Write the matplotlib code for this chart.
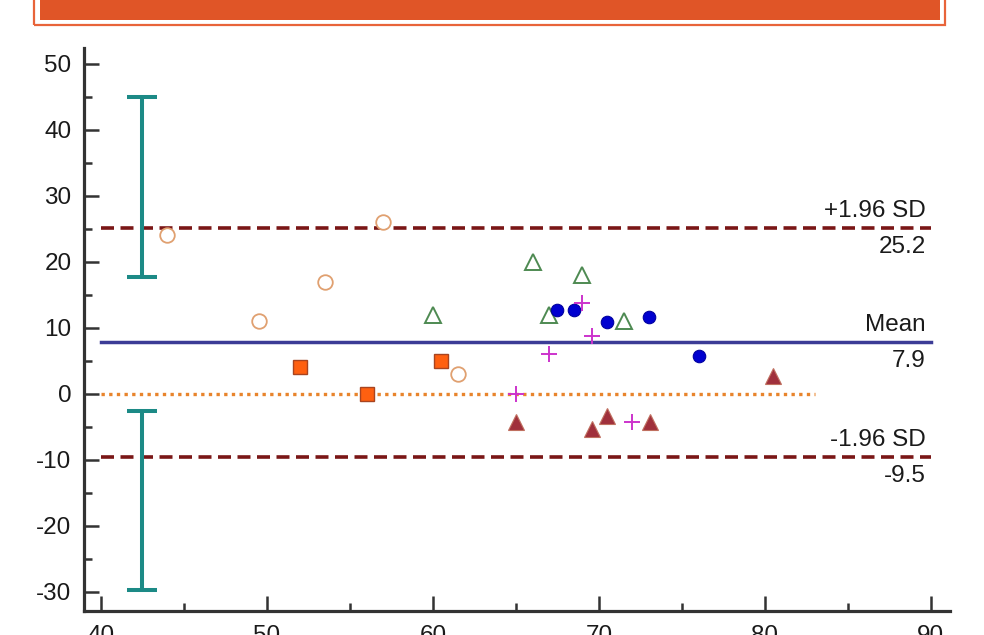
import numpy as np
import matplotlib.pyplot as plt
from matplotlib.patches import Rectangle

plt.rcParams['font.family'] = ['Liberation Sans', 'DejaVu Sans']
plt.rcParams['axes.unicode_minus'] = False

# Group data: mean of the two methods (x) and their difference (y)
open_circle_x = [44.0, 49.5, 53.5, 57.0, 61.5]
open_circle_y = [24, 11, 17, 26, 3]
square_x = [52.0, 56.0, 60.5]
square_y = [4, 0, 5]
open_tri_x = [60.0, 66.0, 69.0, 67.0, 71.5]
open_tri_y = [12, 20, 18, 12, 11]
dot_x = [67.5, 68.5, 70.5, 73.0, 76.0]
dot_y = [12.7, 12.7, 10.9, 11.7, 5.8]
plus_x = [69.0, 69.6, 67.0, 65.0, 72.0]
plus_y = [13.8, 8.8, 6.0, 0.0, -4.2]
tri_x = [65.0, 69.6, 70.5, 73.1, 80.5]
tri_y = [-4.3, -5.3, -3.4, -4.3, 2.7]

# Agreement limits
mean_diff = 7.9
upper_loa = 25.2
lower_loa = -9.5
zero_end = 83

# Confidence intervals of the limits
ci_x = 42.5
ci_low = [17.7, -29.7]
ci_high = [45.0, -2.6]

W, H = 984, 635
FS = 17.5
fig = plt.figure(figsize=(W / 100, H / 100), dpi=100)

# Header strip
fig.patches.append(Rectangle((34 / W, (H - 25) / H), 911 / W, 40 / H,
                             transform=fig.transFigure, facecolor='none',
                             edgecolor='#e8643a', lw=1.6))
fig.patches.append(Rectangle((40 / W, (H - 20) / H), 900 / W, 30 / H,
                             transform=fig.transFigure, facecolor='#e05527',
                             edgecolor='none'))

ax = fig.add_axes([84 / W, (H - 611) / H, 866 / W, 563 / H])
ax.set_xlim(38.98, 91.15)
ax.set_ylim(-32.9, 52.4)

for s in ['top', 'right']:
    ax.spines[s].set_visible(False)
for s in ['left', 'bottom']:
    ax.spines[s].set_linewidth(2.3)
    ax.spines[s].set_color('#333333')

ax.set_xticks(np.arange(40, 91, 10))
ax.set_xticks(np.arange(45, 90, 10), minor=True)
ax.set_yticks(np.arange(-30, 51, 10))
ax.set_yticks(np.arange(-25, 50, 10), minor=True)
ax.tick_params(which='both', direction='in', color='#333333', width=1.8,
               labelsize=FS, labelcolor='#1a1a1a')
ax.tick_params(which='major', length=11)
ax.tick_params(which='minor', length=6)
ax.tick_params(axis='y', pad=9)
ax.tick_params(axis='x', pad=10)

# Reference lines
ax.plot([40, 90], [upper_loa, upper_loa], color='#7a1616', lw=2.6,
        dashes=(3.6, 1.8))
ax.plot([40, 90], [lower_loa, lower_loa], color='#7a1616', lw=2.6,
        dashes=(3.6, 1.8))
ax.plot([40, 90], [mean_diff, mean_diff], color='#3c3c96', lw=2.5)
ax.plot([40, zero_end], [0, 0], color='#e8842c', lw=2.4, dashes=(1, 1.3))

labels = [(upper_loa, '+1.96 SD', f'{upper_loa:.1f}'),
          (mean_diff, 'Mean', f'{mean_diff:.1f}'),
          (lower_loa, '-1.96 SD', f'{lower_loa:.1f}')]
for yv, top, bottom in labels:
    ax.annotate(top, (89.7, yv), xytext=(0, 4), textcoords='offset points',
                ha='right', va='bottom', fontsize=FS, color='#1a1a1a')
    ax.annotate(bottom, (89.7, yv), xytext=(0, -6), textcoords='offset points',
                ha='right', va='top', fontsize=FS, color='#1a1a1a')

# CI bars
ci_low = np.array(ci_low)
ci_high = np.array(ci_high)
mid = (ci_low + ci_high) / 2
ax.errorbar([ci_x, ci_x], mid, yerr=(ci_high - ci_low) / 2, fmt='none',
            ecolor='#1c8a86', elinewidth=2.9, capsize=11, capthick=2.9)

# Points
ax.plot(open_circle_x, open_circle_y, 'o', ms=10.5, mfc='white',
        mec='#e0a070', mew=1.3, ls='none')
ax.plot(square_x, square_y, 's', ms=10, mfc='#ff6010', mec='#a84420',
        mew=1.0, ls='none')
ax.plot(open_tri_x, open_tri_y, '^', ms=11.5, mfc='white', mec='#4e8a52',
        mew=1.4, ls='none')
ax.plot(dot_x, dot_y, 'o', ms=9, mfc='#0000d0', mec='#0000a0', mew=0.8,
        ls='none')
ax.plot(plus_x, plus_y, '+', ms=11.5, mec='#cc33cc', mew=1.4, ls='none')
ax.plot(tri_x, tri_y, '^', ms=11.5, mfc='#a0303c', mec='#c07060', mew=0.8,
        ls='none')

fig.savefig('out.png', dpi=100)
